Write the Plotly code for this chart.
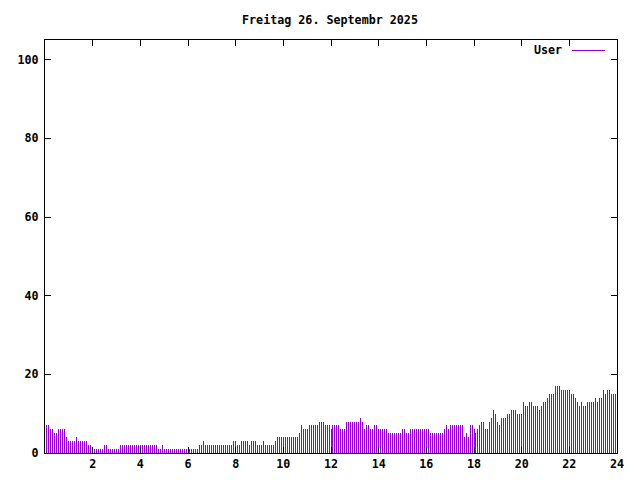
import plotly.graph_objects as go

title_text = "Freitag 26. Septembr 2025"
series_name = "User"

# run-length encoded 5-minute values (value, count), starting 00:05
runs = [
    (7, 2), (6, 2), (5, 2), (6, 4), (4, 1), (3, 4), (4, 1), (3, 5), (2, 2), (1, 6),
    (2, 2), (1, 6), (2, 19), (1, 2), (2, 1), (1, 18), (2, 2), (3, 1),
    (2, 14), (3, 2), (2, 2), (3, 4), (2, 1), (3, 3), (2, 3), (3, 1), (2, 5), (3, 1),
    (4, 11), (5, 1), (7, 1), (6, 3), (7, 5), (8, 3), (7, 3), (6, 1),
    (7, 4), (6, 3), (8, 7), (9, 1), (8, 1), (6, 1), (7, 2), (6, 2), (7, 2), (6, 5),
    (5, 7), (6, 2), (5, 2), (6, 10),
    (5, 7), (6, 1), (7, 1), (6, 1), (7, 7), (4, 1), (5, 1), (4, 1), (7, 2), (6, 1),
    (5, 1), (6, 1), (7, 1), (8, 2), (6, 2), (8, 1), (9, 1), (11, 1), (10, 1), (8, 1),
    (7, 1), (9, 3), (10, 2), (11, 3), (10, 3), (13, 1),
    (12, 2), (13, 2), (12, 3), (11, 1), (12, 1), (13, 2), (14, 1), (15, 3), (17, 3),
    (16, 5), (15, 2), (14, 1), (13, 1), (12, 1), (13, 1), (12, 2), (13, 4), (14, 1),
    (13, 1), (14, 2), (16, 1), (15, 1), (16, 2), (15, 3),
]
values = []
for v, n in runs:
    values.extend([v] * n)
hours = [(i + 1) * 5 / 60 for i in range(len(values))]

x_ticks = list(range(2, 25, 2))
y_ticks = list(range(0, 101, 20))

color = "#9400D3"
bar_color = "rgba(148,0,211,0.999)"
font = dict(family="DejaVu Sans Mono", size=11.7, color="black", weight="bold")

# page body has an 8px margin; offset margins so the plot area lands at 45..617 x 40..453
OFF = 8
fig = go.Figure()
fig.add_trace(go.Bar(x=hours, y=values, width=1 / 23.833,
                     marker=dict(color=bar_color, line=dict(width=0)),
                     name=series_name, showlegend=False, hoverinfo="skip"))

fig.update_layout(
    width=640, height=480,
    margin=dict(l=45 - OFF, r=23 + OFF, t=40 - OFF, b=27 + OFF, autoexpand=False),
    paper_bgcolor="white", plot_bgcolor="white",
    font=font, bargap=0,
    title=dict(text=title_text, x=(330 - OFF) / 640, xanchor="center", xref="container",
               y=1 - (20 - OFF) / 480, yanchor="middle", font=font, automargin=False),
)
fig.update_xaxes(range=[0, 24], tickvals=x_ticks, ticktext=[str(t) for t in x_ticks],
                 ticks="inside", ticklen=6, tickcolor="black", showline=True, linecolor="black",
                 linewidth=1, mirror="ticks", showgrid=False, zeroline=False, tickfont=font,
                 automargin=False)
fig.update_yaxes(range=[0, 105], tickvals=y_ticks, ticktext=[str(t) for t in y_ticks],
                 ticks="inside", ticklen=6, tickcolor="black", showline=True, linecolor="black",
                 linewidth=1, mirror="ticks", showgrid=False, zeroline=False, tickfont=font,
                 automargin=False, ticklabelstandoff=3)

# gnuplot-style legend: text then line sample
fig.add_annotation(xref="paper", yref="paper", x=(564 - 45) / 572, y=(453 - 50) / 413,
                   text=series_name, showarrow=False, xanchor="right", yanchor="middle", font=font)
fig.add_shape(type="line", xref="paper", yref="paper", x0=(572 - 45) / 572, x1=(605 - 45) / 572,
              y0=(453 - 50.5) / 413, y1=(453 - 50.5) / 413, line=dict(color=color, width=1))

fig.write_html("out.html")
